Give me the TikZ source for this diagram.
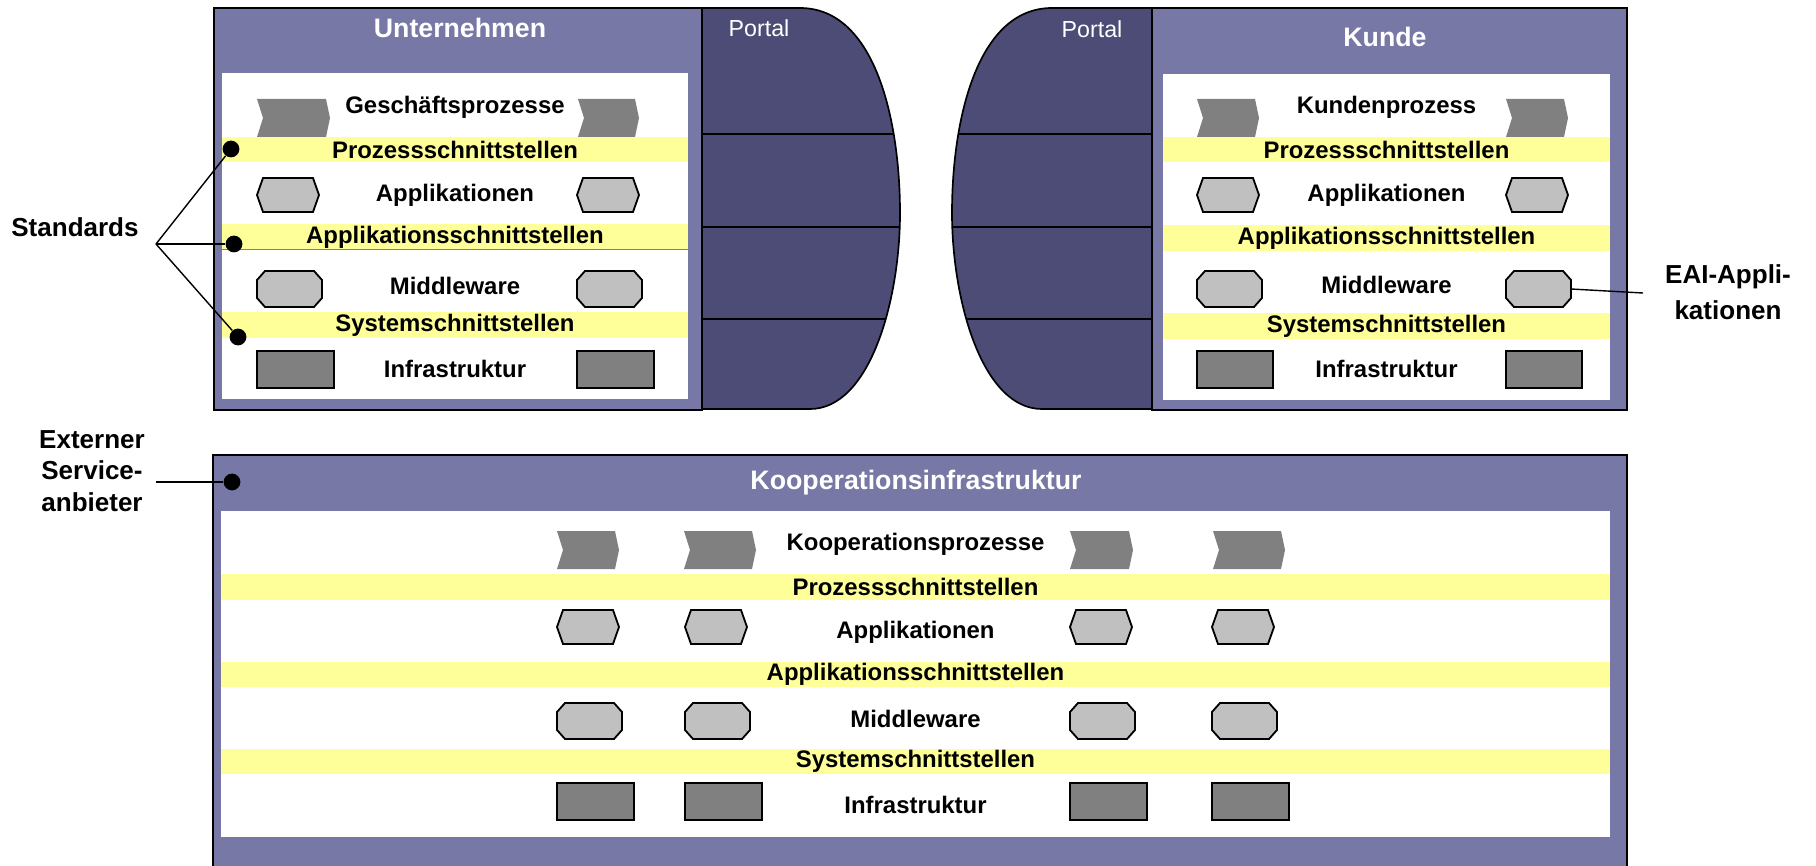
\documentclass[tikz,border=0pt]{standalone}
\usepackage{fontspec}
\setmainfont{Liberation Sans}
\definecolor{framepurple}{HTML}{7878A6}
\definecolor{portalblue}{HTML}{4C4C76}
\definecolor{bandyellow}{HTML}{FFFF99}
\definecolor{shapegray}{HTML}{808080}
\definecolor{lightshape}{HTML}{C0C0C0}
\tikzset{
  frame/.style={draw=black, line width=1.6pt, fill=framepurple},
  portal/.style={draw=black, line width=1.2pt, fill=portalblue},
  title/.style={text=white, font=\fontsize{19}{22}\selectfont\bfseries},
  portaltext/.style={text=white, font=\fontsize{16.5}{19}\selectfont},
  layer/.style={font=\fontsize{17}{20}\selectfont\bfseries, inner sep=0pt},
  band/.style={layer, fill=bandyellow, minimum height=0.625cm},
  side/.style={font=\fontsize{18.5}{22.3}\selectfont\bfseries, align=center},
  dot/.style={circle, fill=black, inner sep=0pt, minimum size=0.42cm},
  link/.style={line width=1pt},
  pics/chev/.style={code={\fill[shapegray] (0,0) -- (#1-4,0) -- (#1,19) -- (#1-4,38) -- (0,38) -- (6,19) -- cycle;}},
  pics/hexa/.style={code={\filldraw[fill=lightshape, line width=1.3pt] (6,0) -- (#1-6,0) -- (#1,17) -- (#1-6,34) -- (6,34) -- (0,17) -- cycle;}},
  pics/octa/.style={code={\filldraw[fill=lightshape, line width=1.3pt] (8,0) -- (#1-8,0) -- (#1,9) -- (#1,27) -- (#1-8,36) -- (8,36) -- (0,27) -- (0,9) -- cycle;
    \coordinate (-e) at (#1,18);}},
  pics/infra/.style={code={\filldraw[fill=shapegray, line width=1.5pt] (0,0) rectangle (#1,37);}}
}
\begin{document}
\begin{tikzpicture}[x=0.025cm, y=-0.025cm]
\useasboundingbox (0,0) rectangle (1816,866);
\draw[frame] (214,8) rectangle (702,410);
\fill[white] (222,73) rectangle (688,399);
\draw[frame] (1152,8) rectangle (1627,410);
\fill[white] (1163,74) rectangle (1610,400);
\fill[framepurple] (213,455) rectangle (1627,866);
\draw[line width=1.6pt] (213,866) -- (213,455) -- (1627,455) -- (1627,866);
\fill[white] (221,511) rectangle (1610,837);

\draw[portal, path picture={\foreach \y in {134,227,319} \draw[line width=1pt] (702,\y) -- (910,\y);}]
  (702,8) -- (800,8) .. controls (875,8) and (900,120) .. (900,213) .. controls (900,300) and (870,409) .. (810,409) -- (702,409) -- cycle;
\draw[portal, path picture={\foreach \y in {134,227,319} \draw[line width=1pt] (940,\y) -- (1152,\y);}]
  (1152,8) -- (1052,8) .. controls (977,8) and (952,120) .. (952,213) .. controls (952,300) and (982,409) .. (1042,409) -- (1152,409) -- cycle;
\node[portaltext] (u-portal) at (759,28) {Portal};
\node[portaltext] (k-portal) at (1092,29) {Portal};

\node[title] (u-title) at (460,28) {Unternehmen};
\node[layer] (u-proc) at (455,107) {Geschäftsprozesse};
\node[band, minimum width=11.65cm] (u-ps) at (455,149.5) {Prozessschnittstellen};
\node[layer] (u-app) at (455,195) {Applikationen};
\node[band, minimum width=11.65cm] (u-as) at (455,237) {Applikationsschnittstellen};
\node[layer] (u-mw) at (455,286) {Middleware};
\node[band, minimum width=11.65cm] (u-ss) at (455,325) {Systemschnittstellen};
\node[layer] (u-inf) at (455,369) {Infrastruktur};
\draw[gray, line width=0.6pt] (u-as.south west) -- (u-as.south east);
\pic at (257,99) {chev=73};
\pic at (578,99) {chev=61};
\foreach \x in {257,577} {
  \pic at (\x,178) {hexa=62};
  \pic at (\x,271) {octa=65};
  \pic at (\x,351) {infra=77};
}

\node[title] (k-title) at (1385,37) {Kunde};
\node[layer] (k-proc) at (1386.5,107) {Kundenprozess};
\node[band, minimum width=11.175cm] (k-ps) at (1386.5,149.5) {Prozessschnittstellen};
\node[layer] (k-app) at (1386.5,195) {Applikationen};
\node[band, minimum width=11.175cm] (k-as) at (1386.5,238) {Applikationsschnittstellen};
\node[layer] (k-mw) at (1386.5,285) {Middleware};
\node[band, minimum width=11.175cm] (k-ss) at (1386.5,326) {Systemschnittstellen};
\node[layer] (k-inf) at (1386.5,369) {Infrastruktur};
\foreach \x in {1197,1506} {
  \pic at (\x,99) {chev=62};
  \pic at (\x,178) {hexa=62};
  \pic at (\x,351) {infra=76};
}
\pic at (1197,271) {octa=65};
\pic (k-m2) at (1506,271) {octa=65};

\node[title] (c-title) at (916,483) {Kooperationsinfrastruktur};
\node[layer] (c-proc) at (915.5,544) {Kooperationsprozesse};
\node[band, minimum width=34.725cm] (c-ps) at (915.5,587) {Prozessschnittstellen};
\node[layer] (c-app) at (915.5,632) {Applikationen};
\node[band, minimum width=34.725cm] (c-as) at (915.5,674) {Applikationsschnittstellen};
\node[layer] (c-mw) at (915.5,719) {Middleware};
\node[band, minimum width=34.725cm] (c-ss) at (915.5,761) {Systemschnittstellen};
\node[layer] (c-inf) at (915.5,805) {Infrastruktur};
\foreach \x/\w in {557/62,684/72,1070/63,1213/72}
  \pic at (\x,531) {chev=\w};
\foreach \x in {557,685,1070,1212} {
  \pic at (\x,610) {hexa=62};
  \pic at (\x,703) {octa=65};
  \pic at (\x,783) {infra=77};
}

\node[side] (std) at (75,227) {Standards};
\coordinate (std-hub) at (156,244);
\node[dot] (d-ps) at (231,149) {};
\node[dot] (d-as) at (234,244) {};
\node[dot] (d-ss) at (238,337) {};
\draw[link] (std-hub) -- (d-ps);
\draw[link] (std-hub) -- (d-as);
\draw[link] (std-hub) -- (d-ss);

\node[side] (ext) at (92,471) {Externer\\Service-\\anbieter};
\coordinate (ext-end) at (156,482);
\node[dot] (d-ext) at (232,482) {};
\draw[link] (ext-end) -- (d-ext);

\node[side, font=\fontsize{18.5}{25.5}\selectfont\bfseries] (eai) at (1728,292) {EAI-Appli-\\kationen};
\coordinate (eai-end) at (1643,293);
\draw[link] (k-m2-e) -- (eai-end);
\end{tikzpicture}
\end{document}
